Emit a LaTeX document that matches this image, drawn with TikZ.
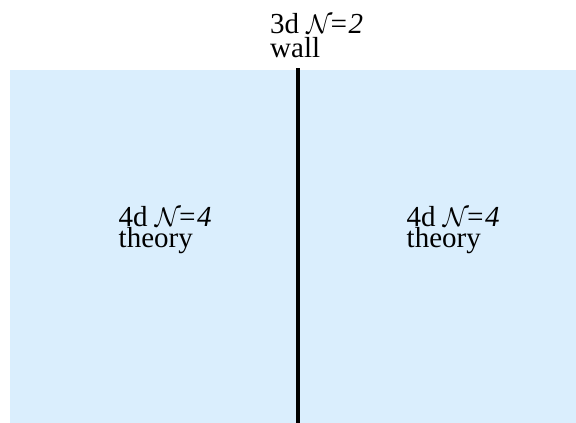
\documentclass[tikz,border=0pt]{standalone}
\usepackage{fontspec}
\setmainfont{Liberation Serif}
\definecolor{bulk}{RGB}{218,238,253}
\newcommand{\calN}{\scalebox{1.08}{$\mathcal{N}$}\kern-0.12em}
\tikzset{
  lbl/.style={anchor=base west, inner sep=0pt, font=\fontsize{29}{24}\selectfont},
  region/.style={fill=bulk, draw=none},
  wallline/.style={line width=4pt, black}
}
\begin{document}
\begin{tikzpicture}[x=1pt,y=1pt]
\useasboundingbox (0,0) rectangle (576,423);
\path[region] (10,0) rectangle (576,353);
\coordinate (wb) at (297.5,0);
\coordinate (wt) at (297.5,355);
\draw[wallline] (wb) -- (wt);
\node[lbl] (t1) at (270,389.7) {3d \calN\textit{=2}};
\node[lbl] (t2) at (270,365.3) {wall};
\node[lbl] (l1) at (118.5,196.3) {4d \calN\textit{=4}};
\node[lbl] (l2) at (118.5,175) {theory};
\node[lbl] (r1) at (406.5,196.3) {4d \calN\textit{=4}};
\node[lbl] (r2) at (406.5,175) {theory};
\end{tikzpicture}
\end{document}
